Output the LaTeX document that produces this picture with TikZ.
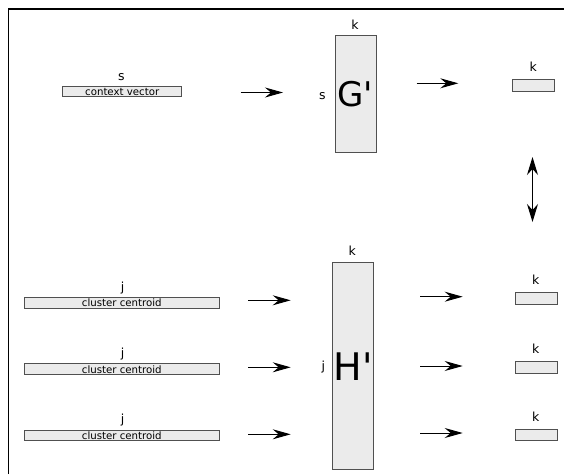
\documentclass[tikz,border=0pt]{standalone}
\usepackage{fontspec}
\setmainfont{DejaVu Sans}
\usetikzlibrary{arrows.meta}
\definecolor{boxline}{HTML}{505050}
\definecolor{boxfill}{HTML}{EBEBEB}
\tikzset{
  vecbox/.style={draw=boxline, fill=boxfill, line width=0.9pt, inner sep=0pt,
    font=\fontsize{10.2}{10}\selectfont},
  lbl/.style={anchor=base, inner sep=0pt, font=\fontsize{12.5}{13}\selectfont},
  big/.style={anchor=base, inner sep=0pt},
  arr/.style={-{Stealth[length=18pt,width=10pt,inset=6pt]}, line width=1pt},
  darr/.style={{Stealth[length=18pt,width=11pt,inset=6pt]}-{Stealth[length=18pt,width=11pt,inset=6pt]}, line width=1pt},
}
\begin{document}
\begin{tikzpicture}[x=1pt,y=-1pt]
\useasboundingbox (0,0) rectangle (564,474);
% frame
\draw[line width=1.3pt] (8.3,474) -- (8.3,9) -- (564,9);

% top row
\node[vecbox, minimum width=119pt, minimum height=10pt] (cv) at (122.2,91.7) {context vector};
\node[lbl] (cvs) at (121.5,80.7) {s};
\coordinate (a1s) at (240.7,92.5);
\coordinate (a1e) at (283,92.5);
\draw[arr] (a1s) -- (a1e);

\node[vecbox, minimum width=41pt, minimum height=117.5pt] (G) at (355.5,93.8) {};
\node[big, font=\fontsize{34}{34}\selectfont] (Gt) at (355,106) {G\textquotesingle};
\node[lbl] (Gk) at (355,29.3) {k};
\node[lbl] (Gs) at (322.3,99) {s};

\coordinate (a2s) at (416.7,83.3);
\coordinate (a2e) at (458.3,83.3);
\draw[arr] (a2s) -- (a2e);

\node[vecbox, minimum width=41.7pt, minimum height=11.7pt] (r0) at (533.2,85.2) {};
\node[lbl] (r0k) at (533.3,71) {k};

\coordinate (d1) at (532.5,157);
\coordinate (d2) at (532.5,222);
\draw[darr] (d1) -- (d2);

% bottom group
\node[vecbox, minimum width=41pt, minimum height=206.3pt] (H) at (353.2,365.8) {};
\node[big, font=\fontsize{38}{38}\selectfont] (Ht) at (353.3,380) {H\textquotesingle};
\node[lbl] (Hk) at (352.3,255.7) {k};
\node[lbl] (Hj) at (323.3,370.5) {j};

\foreach \i/\yb/\yl/\ya/\yr/\yk/\yra in {1/302.8/291.3/300.3/298.3/284.3/296.7, 2/369.2/357.3/367.3/367.5/353.3/366, 3/435.5/423.3/434.3/435.2/421.7/433}{
  \node[vecbox, minimum width=195pt, minimum height=10.7pt] (c\i) at (121.8,\yb) {cluster centroid};
  \node[lbl] (cj\i) at (122.7,\yl) {j};
  \coordinate (la\i s) at (248.3,\ya);
  \coordinate (la\i e) at (290.7,\ya);
  \draw[arr] (la\i s) -- (la\i e);
  \coordinate (ra\i s) at (420,\yra);
  \coordinate (ra\i e) at (462.7,\yra);
  \draw[arr] (ra\i s) -- (ra\i e);
  \node[vecbox, minimum width=41.3pt, minimum height=11.3pt] (r\i) at (536.3,\yr) {};
  \node[lbl] (rk\i) at (535.7,\yk) {k};
}
\end{tikzpicture}
\end{document}
